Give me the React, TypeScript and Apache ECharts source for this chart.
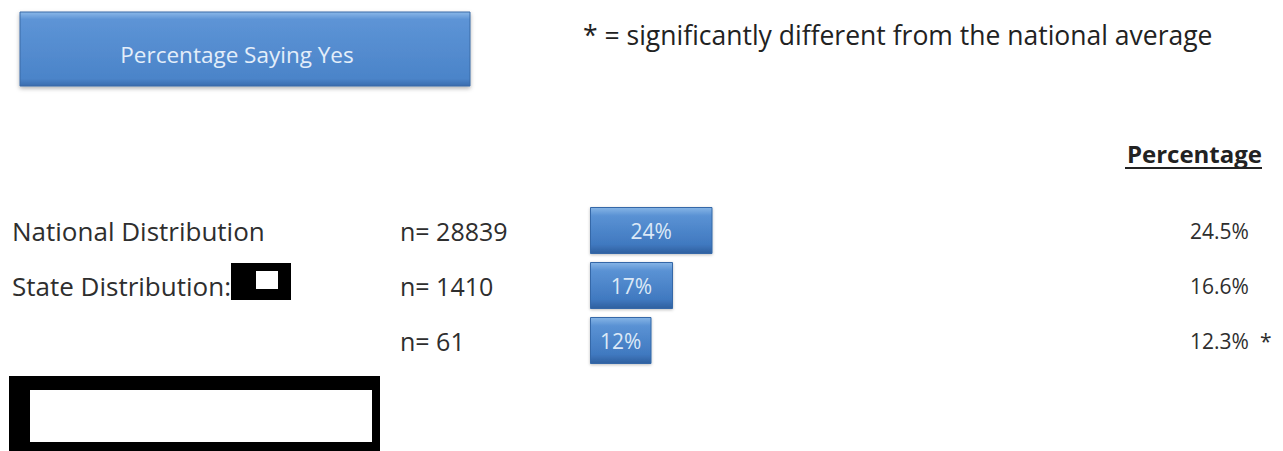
import React, { useEffect, useRef } from "react";
import * as echarts from "echarts";

const categories = ["National Distribution", "State Distribution:", ""];
const sampleSizes = ["n= 28839", "n= 1410", "n= 61"];
const values = [24.5, 16.6, 12.3];
const barLabels = ["24%", "17%", "12%"];
const valueLabels = ["24.5%", "16.6%", "12.3%"];
const significant = [false, false, true];

const FONT = "'Open Sans', Lato, sans-serif";

export default function App() {
  const ref = useRef<HTMLDivElement>(null);
  useEffect(() => {
    if (!ref.current) return;
    const chart = echarts.init(ref.current, null, { renderer: "svg" });
    const barGrad = new echarts.graphic.LinearGradient(0, 0, 0, 1, [
      { offset: 0, color: "#86b5e6" },
      { offset: 0.18, color: "#5a92d4" },
      { offset: 0.8, color: "#4079c0" },
      { offset: 1, color: "#2f609f" },
    ]);
    const titleGrad = new echarts.graphic.LinearGradient(0, 0, 0, 1, [
      { offset: 0, color: "#8ab8e8" },
      { offset: 0.1, color: "#5d94d6" },
      { offset: 0.9, color: "#4b84c9" },
      { offset: 1, color: "#3a6cae" },
    ]);
    chart.setOption({
      animation: false,
      backgroundColor: "#ffffff",
      textStyle: { fontFamily: FONT },
      grid: { left: 590, width: 500, top: 203, height: 165 },
      xAxis: { type: "value", min: 0, max: 100, show: false },
      yAxis: [
        {
          type: "category",
          data: categories,
          inverse: true,
          axisLine: { show: false },
          axisTick: { show: false },
          axisLabel: { align: "left", margin: 578, fontSize: 26, color: "#2e2e2e", fontFamily: FONT },
        },
        {
          type: "category",
          data: sampleSizes,
          inverse: true,
          position: "left",
          axisLine: { show: false },
          axisTick: { show: false },
          axisLabel: { align: "left", margin: 190, fontSize: 25, color: "#2e2e2e", fontFamily: FONT },
        },
        {
          type: "category",
          data: valueLabels,
          inverse: true,
          position: "right",
          axisLine: { show: false },
          axisTick: { show: false },
          axisLabel: {
            align: "left",
            margin: 100,
            fontSize: 21,
            color: "#2e2e2e",
            fontFamily: FONT,
            formatter: (v: string, i: number) =>
              significant[i] ? `{v|${v}}{s|*}` : `{v|${v}}`,
            rich: {
              v: { fontSize: 21, color: "#2e2e2e", fontFamily: FONT },
              s: { fontSize: 21, color: "#2e2e2e", fontFamily: FONT, padding: [0, 0, 0, 11] },
            },
          },
        },
      ],
      series: [
        {
          type: "bar",
          data: values,
          barWidth: 47,
          itemStyle: {
            color: barGrad,
            borderColor: "#3568a8",
            borderWidth: 1,
            shadowColor: "rgba(0,0,0,0.25)",
            shadowBlur: 3,
            shadowOffsetY: 1,
          },
          label: {
            show: true,
            position: "inside",
            color: "#dce9f7",
            fontSize: 21,
            fontFamily: FONT,
            formatter: (p: any) => barLabels[p.dataIndex],
          },
        },
      ],
      graphic: [
        {
          type: "rect",
          shape: { x: 20, y: 12, width: 450, height: 74 },
          style: {
            fill: titleGrad,
            stroke: "#3b6aa6",
            lineWidth: 1,
            shadowColor: "rgba(0,0,0,0.3)",
            shadowBlur: 4,
            shadowOffsetY: 2,
          },
        },
        {
          type: "text",
          x: 237,
          y: 54,
          style: {
            text: "Percentage Saying Yes",
            fill: "#e3eefa",
            fontSize: 22.5,
            fontFamily: FONT,
            align: "center",
            verticalAlign: "middle",
          },
        },
        {
          type: "text",
          x: 583,
          y: 35,
          style: {
            text: "* = significantly different from the national average",
            fill: "#222",
            fontSize: 26.5,
            fontFamily: FONT,
            align: "left",
            verticalAlign: "middle",
          },
        },
        {
          type: "text",
          x: 1262,
          y: 153,
          style: {
            text: "Percentage",
            fill: "#222",
            fontSize: 24,
            fontWeight: "bold",
            fontFamily: FONT,
            align: "right",
            verticalAlign: "middle",
          },
        },
        {
          type: "line",
          shape: { x1: 1125, y1: 168, x2: 1262, y2: 168 },
          style: { stroke: "#222", lineWidth: 2 },
        },
        { type: "rect", shape: { x: 231, y: 263, width: 60, height: 37 }, style: { fill: "#000" } },
        { type: "rect", shape: { x: 256, y: 271, width: 22, height: 18 }, style: { fill: "#fff" } },
        { type: "rect", shape: { x: 9, y: 376, width: 371, height: 75 }, style: { fill: "#000" } },
        { type: "rect", shape: { x: 30, y: 390, width: 342, height: 52 }, style: { fill: "#fff" } },
      ],
    });
    return () => chart.dispose();
  }, []);
  return (
    <div
      ref={ref}
      style={{ position: "fixed", left: 0, top: 0, width: 1283, height: 451 }}
    />
  );
}
